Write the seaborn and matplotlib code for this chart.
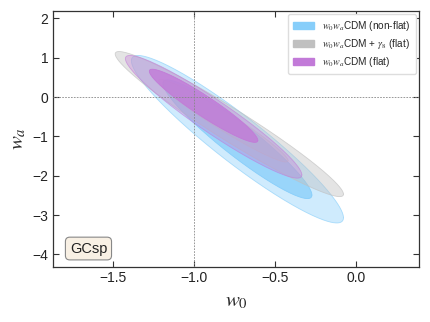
import numpy as np
import matplotlib
matplotlib.use("Agg")
import matplotlib.pyplot as plt
import seaborn as sns
from matplotlib.patches import Patch

# ---- data ----
labels = ["$w_0w_a$CDM (non-flat)",
          "$w_0w_a$CDM + $\\gamma_8$ (flat)",
          "$w_0w_a$CDM (flat)"]
# each contour: centre w0, centre wa, half-range in w0, half-range in wa, correlation
nonflat_outer = [-0.733, -1.07, 0.655, 2.13, -0.937]
nonflat_inner = [-0.733, -1.07, 0.46, 1.51, -0.94]
gamma_outer = [-0.783, -0.685, 0.705, 1.845, -0.966]
gamma_inner = [-0.82, -0.60, 0.40, 1.05, -0.966]
flat_outer = [-0.88, -0.50, 0.545, 1.56, -0.948]
flat_inner = [-0.942, -0.22, 0.335, 0.93, -0.945]
fiducial_w0 = -1.0
fiducial_wa = 0.0
xticks = [-1.5, -1.0, -0.5, 0.0]
yticks = [-4, -3, -2, -1, 0, 1, 2]

sns.set_theme(style="ticks")
plt.rcParams["font.family"] = ["Liberation Sans", "DejaVu Sans"]
plt.rcParams["mathtext.fontset"] = "stix"

fig = plt.figure(figsize=(4.3, 3.22), dpi=100)
ax = fig.add_axes([0.124, 0.172, 0.851, 0.795])


def contour(ax, p, color, alpha, z):
    cx, cy, hx, hy, rho = p
    t = np.linspace(0, 2 * np.pi, 400)
    x = cx + hx * np.cos(t)
    y = cy + hy * (rho * np.cos(t) + np.sqrt(1 - rho ** 2) * np.sin(t))
    ax.fill(x, y, color=color, alpha=alpha, lw=0, zorder=z)
    ax.plot(x, y, color=color, alpha=min(1, alpha + 0.25), lw=0.6, zorder=z)


blue = "#87CEFA"
grey = "#C0C0C0"
purple = "#C27AD8"

contour(ax, nonflat_outer, blue, 0.4, 2)
contour(ax, nonflat_inner, blue, 0.75, 3)
contour(ax, gamma_outer, grey, 0.42, 4)
contour(ax, gamma_inner, grey, 0.3, 5)
contour(ax, flat_outer, purple, 0.35, 6)
contour(ax, flat_inner, purple, 0.8, 7)

ax.axvline(fiducial_w0, color="#888888", ls=(0, (2, 1.5)), lw=0.6, zorder=10)
ax.axhline(fiducial_wa, color="#888888", ls=(0, (2, 1.5)), lw=0.6, zorder=10)

ax.set_xlim(-1.87, 0.39)
ax.set_ylim(-4.31, 2.2)
ax.set_xticks(xticks)
ax.set_yticks(yticks)
ax.tick_params(direction="in", top=True, right=True, length=4, width=0.8,
               labelsize=10, colors="#333333", labelcolor="#222222")
for s in ax.spines.values():
    s.set_linewidth(0.9)
    s.set_color("#333333")

ax.set_xlabel("$w_0$", fontsize=15, labelpad=5)
ax.set_ylabel("$w_a$", fontsize=15, labelpad=3)

handles = [Patch(facecolor=blue, edgecolor=blue),
           Patch(facecolor=grey, edgecolor=grey),
           Patch(facecolor=purple, edgecolor=purple)]
leg = ax.legend(handles, labels, loc="upper right", fontsize=7.2,
                handlelength=2.1, handleheight=0.7, handletextpad=0.8,
                frameon=True, fancybox=True, framealpha=1, edgecolor="#dddddd",
                borderpad=0.5, labelspacing=0.4, borderaxespad=0.35)
leg.set_zorder(20)

ax.text(0.045, 0.055, "GCsp", transform=ax.transAxes, fontsize=10.5,
        color="#222222", zorder=20,
        bbox=dict(boxstyle="round,pad=0.3", fc="#f8f0e4", ec="#888888", lw=0.8))

fig.savefig("out.png", dpi=100)
